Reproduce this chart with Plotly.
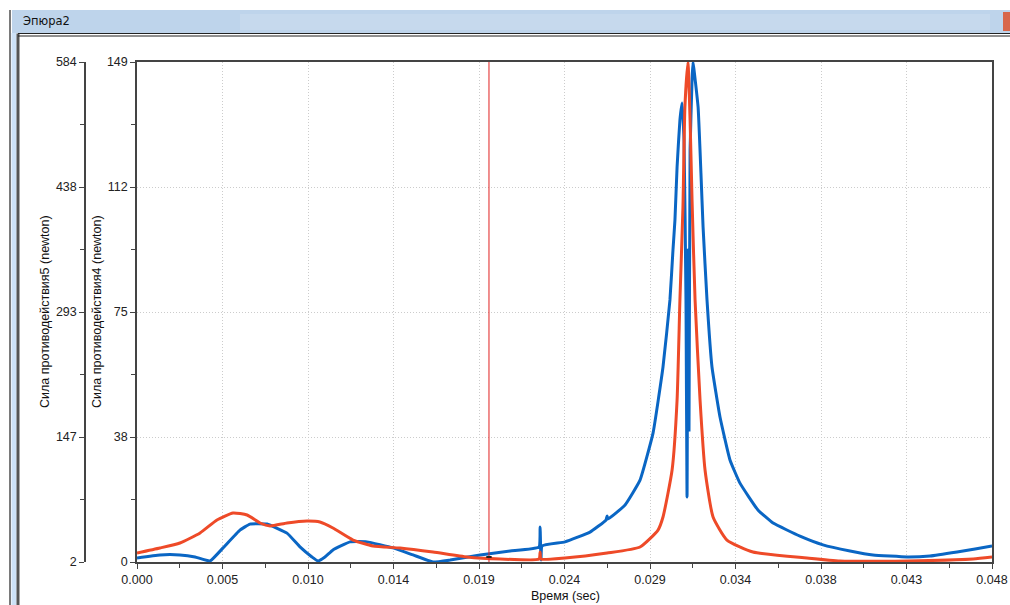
import plotly.graph_objects as go

# ---------------- data ----------------
time_blue = [0.0, 0.00129, 0.00241, 0.00326, 0.00410, 0.00483, 0.00578, 0.00634, 0.00730, 0.00842,
             0.00915, 0.00982, 0.01016, 0.01055, 0.01100, 0.01196, 0.01291, 0.01437, 0.01550, 0.01662,
             0.01758, 0.01926, 0.02095, 0.02257, 0.02263, 0.02268, 0.02274, 0.02403, 0.02543, 0.02633,
             0.02639, 0.02644, 0.02740, 0.02824, 0.02897, 0.02953, 0.02992, 0.03009, 0.03020, 0.03032,
             0.03048, 0.03060, 0.03071, 0.03082, 0.03088, 0.03093, 0.03099, 0.03105, 0.03116, 0.03121,
             0.03150, 0.03166, 0.03178, 0.03200, 0.03228, 0.03273, 0.03329, 0.03385, 0.03486, 0.03571,
             0.03722, 0.03851, 0.04003, 0.04132, 0.04323, 0.04452, 0.04604, 0.04705, 0.04800]
force4_blue = [1.2, 2.1, 2.1, 1.5, 0.3, 4.2, 9.5, 11.3, 11.3, 8.6,
               4.5, 1.5, 0.3, 1.5, 3.6, 6.0, 6.0, 4.2, 2.1, 0.0,
               0.6, 2.1, 3.3, 4.5, 10.4, 0.6, 4.8, 6.0, 8.9, 12.5,
               13.7, 12.8, 17.0, 24.4, 38.4, 58.1, 78.1, 93.0, 101.9, 117.7,
               131.7, 136.8, 125.8, 78.1, 19.4, 93.0, 39.3, 122.8, 143.6, 149.0,
               135.6, 115.9, 99.8, 78.1, 58.1, 43.2, 30.4, 23.5, 15.5, 11.6,
               7.7, 5.1, 3.3, 2.1, 1.5, 1.8, 3.0, 3.9, 4.8]

time_red = [0.0, 0.00129, 0.00241, 0.00354, 0.00449, 0.00539, 0.00618, 0.00691, 0.00747, 0.00842,
            0.00954, 0.01027, 0.01100, 0.01213, 0.01325, 0.01477, 0.01662, 0.01853, 0.02038, 0.02257,
            0.02263, 0.02268, 0.02403, 0.02639, 0.02824, 0.02925, 0.02953, 0.03004, 0.03032, 0.03048,
            0.03065, 0.03076, 0.03093, 0.03105, 0.03116, 0.03133, 0.03161, 0.03189, 0.03234, 0.03312,
            0.03458, 0.03761, 0.03947, 0.04323, 0.04694, 0.04800]
force5_red = [12.5, 18.3, 24.1, 35.8, 50.9, 59.0, 56.7, 47.4, 43.9, 47.4,
              49.7, 48.6, 41.6, 27.6, 20.6, 18.3, 13.6, 7.8, 5.5, 5.5,
              13.6, 5.5, 6.7, 12.5, 19.5, 39.2, 54.4, 109.1, 190.6, 307.0,
              415.2, 531.6, 584.0, 516.5, 423.4, 307.0, 190.6, 109.1, 54.4, 27.6,
              13.6, 6.7, 3.2, 3.2, 5.5, 7.8]

x_tick_vals = [0.0, 0.0048, 0.0096, 0.0144, 0.0192, 0.024, 0.0288, 0.0336, 0.0384, 0.0432, 0.048]
x_tick_text = ["0.000", "0.005", "0.010", "0.014", "0.019", "0.024", "0.029", "0.034", "0.038", "0.043", "0.048"]
y4_tick_vals = [0, 37.25, 74.5, 111.75, 149]
y4_tick_text = ["0", "38", "75", "112", "149"]
y5_tick_vals = [2, 147.5, 293, 438.5, 584]
y5_tick_text = ["2", "147", "293", "438", "584"]
cursor_time = 0.01976

# ---------------- layout helpers ----------------
W, H = 1010, 605
# plot area in window pixels: x 137..992, y 62..562
ML = 12
MR = W - 992
MT = 62
MB = H - 562
PW, PH = W - ML - MR, H - MT - MB


def px(x):
    """window pixel x -> paper coordinate"""
    return (x - ML) / PW


def py(y):
    """window pixel y -> paper coordinate"""
    return (H - MB - y) / PH


FONT = "Liberation Sans, Arial, sans-serif"
FS = 12.5
BLUE = "#0a66c4"
RED = "#ee4a28"
AX = "#444444"
GRID = "#cccccc"

fig = go.Figure()
fig.add_trace(go.Scatter(x=time_blue, y=force4_blue, mode="lines",
                         line=dict(color=BLUE, width=3, shape="spline", smoothing=0.35),
                         yaxis="y", showlegend=False))
fig.add_trace(go.Scatter(x=time_red, y=force5_red, mode="lines",
                         line=dict(color=RED, width=3, shape="spline", smoothing=0.5),
                         yaxis="y2", showlegend=False))

x_minor = [(a + b) / 2 for a, b in zip(x_tick_vals[:-1], x_tick_vals[1:])]
y4_minor = [(a + b) / 2 for a, b in zip(y4_tick_vals[:-1], y4_tick_vals[1:])]
y5_minor = [(a + b) / 2 for a, b in zip(y5_tick_vals[:-1], y5_tick_vals[1:])]

fig.update_layout(
    width=W, height=H,
    margin=dict(l=ML, r=MR, t=MT, b=MB, pad=0, autoexpand=False),
    paper_bgcolor="white", plot_bgcolor="white",
    font=dict(family=FONT, size=FS, color="#222"),
    xaxis=dict(
        domain=[px(137), 1], range=[0, 0.048], automargin=False,
        tickmode="array", tickvals=x_tick_vals, ticktext=x_tick_text,
        ticks="outside", ticklen=5, tickcolor=AX,
        showline=True, linecolor=AX, linewidth=1.5, mirror=True,
        showgrid=True, gridcolor=GRID, griddash="1px,2px", gridwidth=1,
        zeroline=False,
        minor=dict(tickmode="array", tickvals=x_minor, ticks="outside", ticklen=4, tickcolor=AX, showgrid=False),
        tickfont=dict(size=FS, family=FONT),
    ),
    yaxis=dict(
        range=[0, 149], automargin=False,
        tickmode="array", tickvals=y4_tick_vals, ticktext=y4_tick_text,
        ticks="outside", ticklen=5, tickcolor=AX,
        showline=True, linecolor=AX, linewidth=1.5, mirror=True,
        showgrid=True, gridcolor=GRID, griddash="1px,2px", gridwidth=1,
        zeroline=False,
        minor=dict(tickmode="array", tickvals=y4_minor, ticks="outside", ticklen=4, tickcolor=AX, showgrid=False),
        tickfont=dict(size=FS, family=FONT),
    ),
    yaxis2=dict(
        range=[2, 584], overlaying="y", anchor="free", side="left", position=px(85),
        automargin=False,
        tickmode="array", tickvals=y5_tick_vals, ticktext=y5_tick_text,
        ticks="outside", ticklen=5, tickcolor=AX,
        showline=True, linecolor=AX, linewidth=1.5,
        showgrid=False, zeroline=False,
        minor=dict(tickmode="array", tickvals=y5_minor, ticks="outside", ticklen=4, tickcolor=AX, showgrid=False),
        tickfont=dict(size=FS, family=FONT),
    ),
)

shapes = [
    # cursor line
    dict(type="line", xref="x", yref="paper", x0=cursor_time, x1=cursor_time, y0=0, y1=1,
         line=dict(color="#e02020", width=1)),
    # window title bar
    dict(type="rect", xref="paper", yref="paper", x0=px(12), x1=px(1010), y0=py(33), y1=py(10),
         fillcolor="#bed4eb", line=dict(width=0), layer="below"),
    dict(type="rect", xref="paper", yref="paper", x0=px(240), x1=px(990), y0=py(30), y1=py(14),
         fillcolor="#c6d9ed", line=dict(width=0), layer="below"),
    dict(type="rect", xref="paper", yref="paper", x0=px(1003), x1=px(1010), y0=py(31), y1=py(12),
         fillcolor="#d8664a", line=dict(width=0), layer="below"),
    # title bar bottom double line
    dict(type="line", xref="paper", yref="paper", x0=px(18), x1=px(1010), y0=py(33.5), y1=py(33.5),
         line=dict(color="#222", width=1)),
    dict(type="line", xref="paper", yref="paper", x0=px(18), x1=px(1010), y0=py(36), y1=py(36),
         line=dict(color="#222", width=1.2)),
    # left window frame
    dict(type="rect", xref="paper", yref="paper", x0=px(9), x1=px(11), y0=py(605), y1=py(10),
         fillcolor="#7a7a7a", line=dict(width=0), layer="below"),
    dict(type="rect", xref="paper", yref="paper", x0=px(11.5), x1=px(16.5), y0=py(605), y1=py(33),
         fillcolor="#cde2f7", line=dict(width=0), layer="below"),
    dict(type="rect", xref="paper", yref="paper", x0=px(16.5), x1=px(19.5), y0=py(605), y1=py(33.5),
         fillcolor="#555555", line=dict(width=0), layer="below"),
    # small marker of cursor at bottom
    dict(type="line", xref="x", yref="paper", x0=cursor_time - 0.00015, x1=cursor_time + 0.00015,
         y0=py(557), y1=py(557), line=dict(color="#222", width=2)),
]
fig.update_layout(shapes=shapes)

annotations = [
    dict(text="Эпюра2", xref="paper", yref="paper", x=px(21), y=py(21), xanchor="left", yanchor="middle",
         showarrow=False, font=dict(family="DejaVu Sans, sans-serif", size=11.5, color="#111")),
    dict(text="Сила противодействия5 (newton)", xref="paper", yref="paper", x=px(45), y=py(312),
         xanchor="center", yanchor="middle", textangle=-90, showarrow=False,
         font=dict(family=FONT, size=FS, color="#111")),
    dict(text="Сила противодействия4 (newton)", xref="paper", yref="paper", x=px(97), y=py(312),
         xanchor="center", yanchor="middle", textangle=-90, showarrow=False,
         font=dict(family=FONT, size=FS, color="#111")),
    dict(text="Время (sec)", xref="paper", yref="paper", x=px(565), y=py(596),
         xanchor="center", yanchor="middle", showarrow=False,
         font=dict(family=FONT, size=FS, color="#111")),
]
fig.update_layout(annotations=annotations)

# the window shows the figure flush at its top-left corner
fig.write_html("out.html", config={"displayModeBar": False},
               post_script="document.body.style.margin='0px';document.body.style.overflow='hidden';")
